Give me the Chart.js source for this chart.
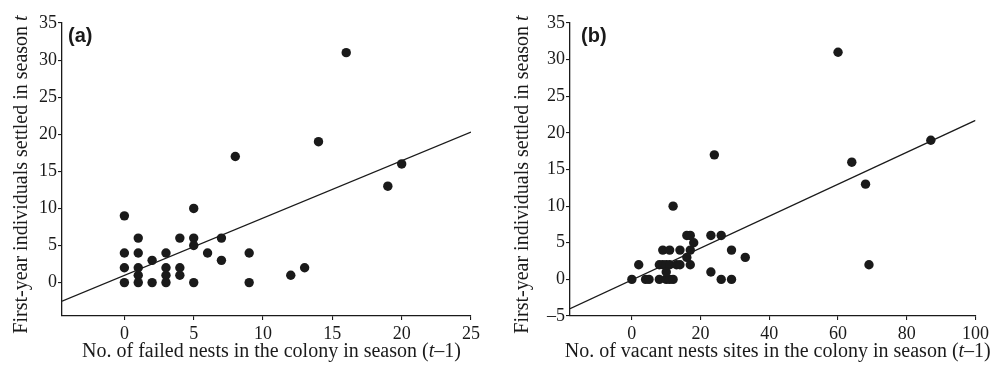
<!DOCTYPE html>
<html>
<head>
<meta charset="utf-8">
<script src="https://cdn.jsdelivr.net/npm/chart.js@4.4.1/dist/chart.umd.min.js"></script>
<style>
  html, body { margin: 0; padding: 0; background: #fff; }
  .panel { position: absolute; top: 0; height: 366px; }
  #wrapA { left: 0; width: 490px; }
  #wrapB { left: 490px; width: 502px; }
</style>
</head>
<body>
<div class="panel" id="wrapA"><canvas id="chartA"></canvas></div>
<div class="panel" id="wrapB"><canvas id="chartB"></canvas></div>
<script>
// Panel (a): failed nests (t-1) vs first-year settlers (t)
const failedA  = [0, 0, 0, 0, 1, 1, 1, 1, 1, 2, 2, 3, 3, 3, 3, 4, 4, 4, 5, 5, 5, 5, 6, 7, 7, 8, 9, 9, 12, 13, 14, 16, 19, 20];
const settledA = [9, 4, 2, 0, 6, 4, 2, 1, 0, 3, 0, 4, 2, 1, 0, 6, 2, 1, 10, 6, 5, 0, 4, 6, 3, 17, 4, 0, 1, 2, 19, 31, 13, 16];
const fitXA = [-4.5, 25];
const fitYA = [-2.5, 20.3];
const xTicksA = [0, 5, 10, 15, 20, 25];
const yTicksA = [0, 5, 10, 15, 20, 25, 30, 35];

// Panel (b): vacant nest sites (t-1) vs first-year settlers (t)
const vacantB  = [0, 2, 4, 5, 8, 10, 11, 12, 8, 9, 10, 11, 13, 14, 17, 10, 9, 11, 14, 17, 16, 18, 16, 17, 12, 23, 26, 24, 23, 26, 29, 29, 33, 60, 64, 68, 69, 87];
const settledB = [0, 2, 0, 0, 0, 0, 0, 0, 2, 2, 2, 2, 2, 2, 2, 1, 4, 4, 4, 4, 3, 5, 6, 6, 10, 6, 6, 17, 1, 0, 0, 4, 3, 31, 16, 13, 2, 19];
const fitXB = [-18, 100];
const fitYB = [-4, 21.7];
const xTicksB = [0, 20, 40, 60, 80, 100];
const yTicksB = [-5, 0, 5, 10, 15, 20, 25, 30, 35];

const yTitle = [{ t: 'First-year individuals settled in season ' }, { t: 't', i: true }];
const xTitleA = [{ t: 'No. of failed nests in the colony in season (' }, { t: 't', i: true }, { t: '\u20131)' }];
const xTitleB = [{ t: 'No. of vacant nests sites in the colony in season (' }, { t: 't', i: true }, { t: '\u20131)' }];

const INK = '#1a1a1a';
const SERIF = "'Liberation Serif', 'Times New Roman', serif";

function pts(xs, ys) {
  return xs.map((x, i) => ({ x: x, y: ys[i] }));
}

function drawRich(ctx, parts, size) {
  let w = 0;
  parts.forEach(p => {
    ctx.font = (p.i ? 'italic ' : '') + size + 'px ' + SERIF;
    p.w = ctx.measureText(p.t).width;
    w += p.w;
  });
  let x = -w / 2;
  ctx.textAlign = 'left';
  ctx.textBaseline = 'middle';
  parts.forEach(p => {
    ctx.font = (p.i ? 'italic ' : '') + size + 'px ' + SERIF;
    ctx.fillText(p.t, x, 0);
    x += p.w;
  });
}

const labelsPlugin = {
  id: 'labels',
  afterDraw(chart, args, opts) {
    const ctx = chart.ctx;
    const a = chart.chartArea;
    ctx.save();
    ctx.fillStyle = INK;
    // y axis title
    ctx.save();
    ctx.translate(opts.yTitleX, (a.top + a.bottom) / 2 + 5);
    ctx.rotate(-Math.PI / 2);
    drawRich(ctx, yTitle, 20);
    ctx.restore();
    // x axis title
    ctx.save();
    ctx.translate((a.left + a.right) / 2 + opts.xShift, opts.xTitleY);
    drawRich(ctx, opts.xTitle, 20);
    ctx.restore();
    // panel letter
    ctx.font = "bold 20px 'Liberation Sans', Arial, sans-serif";
    ctx.textAlign = 'left';
    ctx.textBaseline = 'top';
    ctx.fillText(opts.letter, a.left + opts.letterDx, a.top + 3);
    ctx.restore();
  }
};

function makeChart(id, xs, ys, fx, fy, xr, yr, xTicks, yTicks, yWidth, padRight, extra) {
  const fixTicks = vals => scale => { scale.ticks = vals.map(v => ({ value: v })); };
  return new Chart(document.getElementById(id), {
    type: 'scatter',
    data: {
      datasets: [{
        data: pts(xs, ys),
        backgroundColor: INK,
        borderColor: INK,
        pointRadius: 4.7,
        pointBorderWidth: 0
      }, {
        type: 'line',
        data: pts(fx, fy),
        borderColor: INK,
        borderWidth: 1.4,
        pointRadius: 0,
        fill: false
      }]
    },
    options: {
      responsive: true,
      maintainAspectRatio: false,
      animation: false,
      layout: { padding: { left: 0, right: padRight, top: 23, bottom: 0 } },
      plugins: {
        legend: { display: false },
        tooltip: { enabled: false },
        labels: extra
      },
      scales: {
        x: {
          type: 'linear',
          min: xr[0],
          max: xr[1],
          afterBuildTicks: fixTicks(xTicks),
          afterFit: s => { s.height = 50; },
          border: { color: INK, width: 1.3 },
          grid: { drawOnChartArea: false, color: INK, tickLength: 4, lineWidth: 1.1 },
          ticks: { color: INK, padding: 3, maxRotation: 0, font: { family: SERIF, size: 18 } }
        },
        y: {
          type: 'linear',
          min: yr[0],
          max: yr[1],
          afterBuildTicks: fixTicks(yTicks),
          afterFit: s => { s.width = yWidth; },
          border: { color: INK, width: 1.3 },
          grid: { drawOnChartArea: false, color: INK, tickLength: 4, lineWidth: 1.1 },
          ticks: { color: INK, padding: 1, font: { family: SERIF, size: 18 },
                   callback: v => v < 0 ? '\u2013' + Math.abs(v) : v }
        }
      }
    },
    plugins: [labelsPlugin]
  });
}

makeChart('chartA', failedA, settledA, fitXA, fitYA, [-4.5, 25], [-4.5, 35], xTicksA, yTicksA, 62, 19,
  { yTitleX: 22, xTitleY: 352, xShift: 5, xTitle: xTitleA, letter: '(a)', letterDx: 6 });
makeChart('chartB', vacantB, settledB, fitXB, fitYB, [-18, 100], [-5, 35], xTicksB, yTicksB, 80, 15,
  { yTitleX: 33, xTitleY: 352, xShift: 5, xTitle: xTitleB, letter: '(b)', letterDx: 11 });
</script>
</body>
</html>
